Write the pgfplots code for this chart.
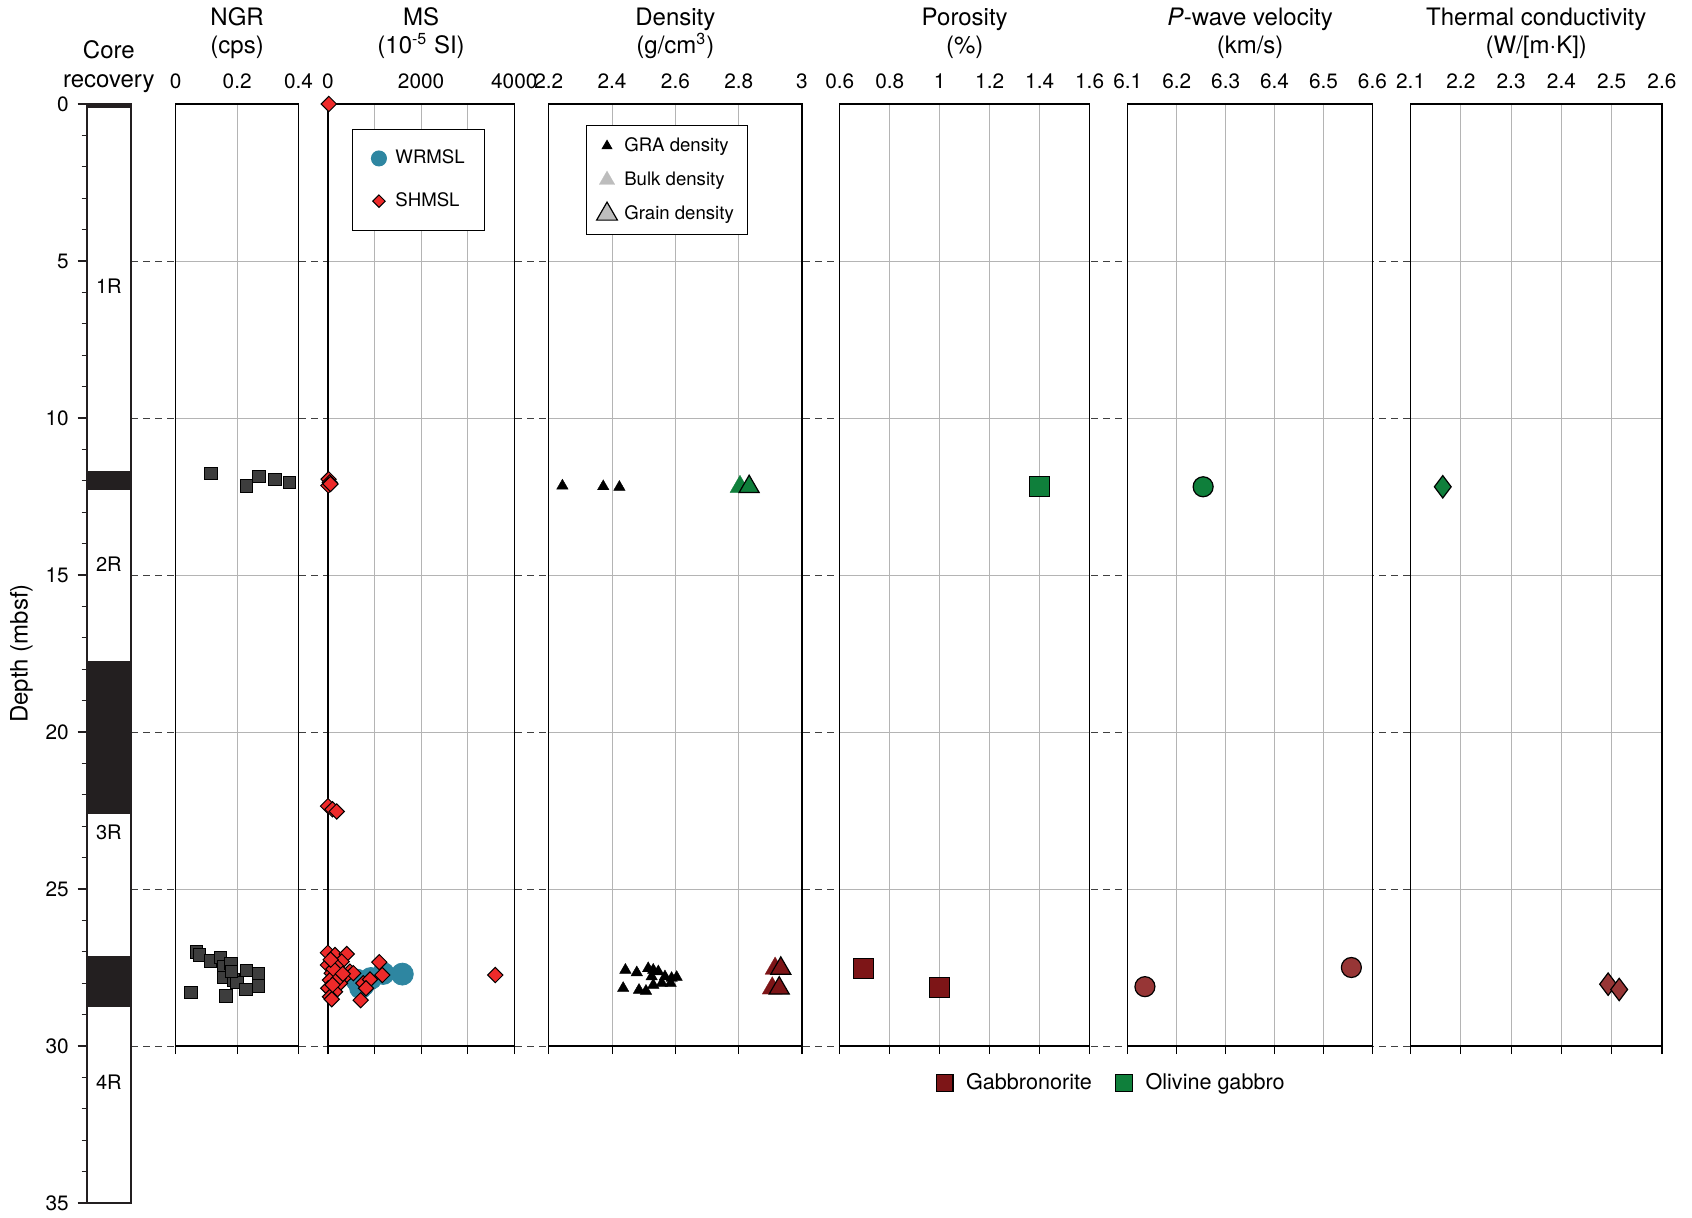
\documentclass[border=0pt]{standalone}
\usepackage{pgfplots}
\pgfplotsset{compat=1.18}
\usepackage{fontspec}
\setmainfont{TeX Gyre Heros}
\definecolor{gabsq}{HTML}{7D1517}
\definecolor{gabci}{HTML}{973636}
\definecolor{oliv}{HTML}{0F7F3B}
\definecolor{ngrgray}{HTML}{3D3D3D}
\definecolor{shred}{HTML}{EE2A2A}
\definecolor{wrteal}{HTML}{2E86A1}
\definecolor{coreblk}{HTML}{231F20}
\definecolor{gridgray}{HTML}{B4B4B4}
\definecolor{legray}{HTML}{BDBDBD}
\newcommand{\titlefont}{\fontsize{12}{14}\selectfont}
\newcommand{\tickfont}{\fontsize{10.4}{12}\selectfont}
\newcommand{\legfont}{\fontsize{9.3}{11}\selectfont}
\newcommand{\botlegfont}{\fontsize{10.8}{12}\selectfont}
\newcommand{\corefont}{\fontsize{10}{12}\selectfont}
\tikzset{ptitle/.style={font=\titlefont, anchor=base}}
\pgfplotsset{
  panel/.style={
    scale only axis, anchor=south west, height=471pt,
    ymin=0, ymax=30, y dir=reverse,
    ytick={0,5,...,30}, yticklabels={}, ytick style={draw=none},
    xmajorgrids, ymajorgrids,
    grid style={gridgray, line width=0.5pt},
    axis line style={black, line width=0.6pt},
    xtick pos=left, xticklabel pos=right,
    tick align=outside, major tick length=4pt,
    xtick style={black, line width=0.6pt},
    tick label style={font=\tickfont},
    axis background/.style={fill=white},
    clip=false,
  },
}
\newcommand{\paneltitle}[2]{%
  \node[ptitle, yshift=39.4pt] at (axis description cs:0.5,1) {#1};
  \node[ptitle, yshift=25.4pt] at (axis description cs:0.5,1) {#2};}
\begin{document}
\begin{tikzpicture}
\useasboundingbox (0,0) rectangle (846pt,608.5pt);
% dashed connectors
\begin{axis}[scale only axis, anchor=south west, at={(65.5pt,85.5pt)}, width=765.5pt, height=471pt,
  xmin=0, xmax=1, ymin=0, ymax=30, y dir=reverse, xtick=\empty, ytick={5,10,...,30}, yticklabels={},
  ymajorgrids, grid style={black!75, line width=0.5pt, dash pattern=on 3.5pt off 2.5pt},
  axis line style={draw=none}, tick style={draw=none}]
\addplot[draw=none] coordinates {(0,0)};
\end{axis}
% core recovery
\begin{axis}[scale only axis, anchor=south west, at={(43.35pt,7pt)}, width=22.15pt, height=549.5pt,
  xmin=0, xmax=1, ymin=0, ymax=35, y dir=reverse, clip=false,
  xtick=\empty, ytick={0,5,...,35}, yticklabels={0,5,10,15,20,25,30,35},
  minor ytick={0,1,...,35},
  ytick pos=left, tick align=outside, major tick length=4.5pt, minor tick length=2.5pt,
  tick style={coreblk, line width=0.6pt},
  axis line style={coreblk, line width=1.1pt},
  yticklabel style={font=\tickfont, xshift=-1pt},
  axis background/.style={fill=white},
  ylabel={Depth (mbsf)}, ylabel style={font=\titlefont, at={(axis description cs:-1.47,0.5)}, anchor=center}]
\addplot[fill=coreblk, draw=none] coordinates {(0,0) (1,0) (1,0.12) (0,0.12)} -- cycle;
\addplot[fill=coreblk, draw=none] coordinates {(0,11.7) (1,11.7) (1,12.29) (0,12.29)} -- cycle;
\addplot[fill=coreblk, draw=none] coordinates {(0,17.75) (1,17.75) (1,22.62) (0,22.62)} -- cycle;
\addplot[fill=coreblk, draw=none] coordinates {(0,27.13) (1,27.13) (1,28.76) (0,28.76)} -- cycle;
\node[font=\corefont] at (axis cs:0.5,5.8) {1R};
\node[font=\corefont] at (axis cs:0.5,14.65) {2R};
\node[font=\corefont] at (axis cs:0.5,23.2) {3R};
\node[font=\corefont] at (axis cs:0.5,31.15) {4R};
\node[ptitle, yshift=23pt] at (axis description cs:0.5,1) {Core};
\node[ptitle, yshift=8.5pt] at (axis description cs:0.5,1) {recovery};
\end{axis}
% NGR
\begin{axis}[panel, at={(87.85pt,85.5pt)}, width=61.45pt, xmin=0, xmax=0.4,
  xtick={0,0.2,0.4}, xticklabels={0,0.2,0.4}]
\addplot[only marks, mark=square*, mark size=3.1pt, mark options={fill=ngrgray, draw=black, line width=0.4pt}] coordinates {
(0.114,11.76) (0.231,12.16) (0.271,11.85) (0.323,11.95) (0.370,12.06)
(0.068,27.0) (0.077,27.1) (0.112,27.29) (0.146,27.18) (0.155,27.47) (0.180,27.37) (0.157,27.81) (0.188,27.9) (0.199,27.98) (0.231,27.6) (0.269,27.69) (0.229,28.19) (0.269,28.09) (0.049,28.29) (0.163,28.4) (0.182,27.63)};
\paneltitle{NGR}{(cps)}
\end{axis}
% MS
\begin{axis}[panel, at={(163.95pt,85.5pt)}, width=93.2pt, xmin=0, xmax=4000,
  xtick={0,1000,2000,3000,4000}, xticklabels={0,,2000,,4000},
  legend style={at={(axis description cs:0.129,0.974)}, anchor=north west, draw=black, line width=0.5pt,
    font=\legfont, inner xsep=4pt, inner ysep=8.5pt, row sep=8.9pt},
  legend cell align=left,
  legend image code/.code={\path (0pt,0pt) (15pt,0pt); \draw[#1] plot coordinates {(9pt,0pt)};}]
\addplot[forget plot, only marks, mark=*, mark size=5.5pt, mark options={fill=wrteal, draw=wrteal}] coordinates {
(1597,27.71) (1189,27.69) (760,28.06) (618,27.9) (920,27.85) (700,28.15)};
\addplot[forget plot, only marks, mark=square*, mark size=2.7pt, mark options={rotate=45, fill=shred, draw=black, line width=0.5pt}] coordinates {
(20,0) (15,11.95) (40,12.05) (10,12.15) (55,12.1)
(2,22.36) (97,22.46) (189,22.53)
(0,27.03) (152,27.1) (403,27.07) (296,27.31) (0,27.42) (189,27.47) (474,27.63) (82,27.68) (367,27.79) (45,27.9) (260,28.0) (9,28.16) (152,28.27) (45,28.43) (82,28.51) (1103,27.33) (1168,27.74) (760,28.0) (903,27.88) (818,28.16) (704,28.54) (3592,27.74) (545,27.68) (120,27.55) (230,27.85) (100,28.05) (320,27.7) (60,27.25)};
\addlegendimage{only marks, mark=*, mark size=3.75pt, mark options={fill=wrteal, draw=wrteal}}
\addlegendentry{WRMSL\rule{3.8pt}{0pt}}
\addlegendimage{only marks, mark=square*, mark size=2.2pt, mark options={rotate=45, fill=shred, draw=black, line width=0.5pt}}
\addlegendentry{SHMSL}
\paneltitle{MS}{(10\textsuperscript{-5} SI)}
\end{axis}
% Density
\begin{axis}[panel, at={(274.4pt,85.5pt)}, width=126.6pt, xmin=2.2, xmax=3,
  xtick={2.2,2.4,2.6,2.8,3}, xticklabels={2.2,2.4,2.6,2.8,3},
  legend style={at={(axis description cs:0.147,0.9777)}, anchor=north west, draw=black, line width=0.5pt,
    font=\legfont, inner xsep=4pt, inner ysep=3.95pt, row sep=4.7pt},
  legend cell align=left,
  legend image code/.code={\path (0pt,0pt) (12.4pt,0pt); \draw[#1] plot coordinates {(6pt,0pt)};}]
\addplot[forget plot, only marks, mark=triangle*, mark size=3.3pt, mark options={fill=black, draw=black, line width=0.2pt}] coordinates {
(2.243,12.16) (2.372,12.18) (2.423,12.2)
(2.442,27.58) (2.478,27.66) (2.514,27.53) (2.530,27.58) (2.546,27.63) (2.525,27.79) (2.567,27.79) (2.588,27.84) (2.604,27.81) (2.557,28.0) (2.585,28.0) (2.435,28.16) (2.485,28.22) (2.507,28.25) (2.530,28.06)};
\addplot[forget plot, only marks, mark=triangle*, mark size=5.8pt, mark options={fill=oliv, draw=oliv, line width=0.1pt}] coordinates {(2.804,12.19)};
\addplot[forget plot, only marks, mark=triangle*, mark size=5.8pt, mark options={fill=oliv, draw=black, line width=0.6pt}] coordinates {(2.833,12.19)};
\addplot[forget plot, only marks, mark=triangle*, mark size=5.8pt, mark options={fill=gabsq, draw=gabsq, line width=0.1pt}] coordinates {(2.915,27.53) (2.906,28.16)};
\addplot[forget plot, only marks, mark=triangle*, mark size=5.8pt, mark options={fill=gabsq, draw=black, line width=0.6pt}] coordinates {(2.933,27.53) (2.928,28.16)};
\addlegendimage{only marks, mark=triangle*, mark size=2.7pt, mark options={fill=black, draw=black}}
\addlegendentry{GRA density}
\addlegendimage{only marks, mark=triangle*, mark size=4.5pt, mark options={fill=legray, draw=legray, line width=0.1pt}}
\addlegendentry{Bulk density}
\addlegendimage{only marks, mark=triangle*, mark size=6pt, mark options={fill=legray, draw=black, line width=0.6pt}}
\addlegendentry{Grain density\rule{1pt}{0pt}}
\paneltitle{Density}{(g/cm\textsuperscript{3})}
\end{axis}
% Porosity
\begin{axis}[panel, at={(419.9pt,85.5pt)}, width=124.9pt, xmin=0.6, xmax=1.6,
  xtick={0.6,0.8,1,1.2,1.4,1.6}, xticklabels={0.6,0.8,1,1.2,1.4,1.6},
  legend style={at={(axis description cs:0.376,-0.0395)}, anchor=west, draw=none,
    font=\botlegfont, inner xsep=0pt, inner ysep=0pt, /tikz/column 2/.style={column sep=8.9pt}},
  legend columns=2, legend cell align=left,
  legend image code/.code={\path (0pt,0pt) (13.6pt,0pt); \draw[#1] plot coordinates {(5pt,0pt)};}]
\addplot[forget plot, only marks, mark=square*, mark size=5pt, mark options={fill=gabsq, draw=black, line width=0.6pt}] coordinates {(0.694,27.52) (1.0,28.13)};
\addplot[forget plot, only marks, mark=square*, mark size=5pt, mark options={fill=oliv, draw=black, line width=0.6pt}] coordinates {(1.4,12.19)};
\addlegendimage{only marks, mark=square*, mark size=4.2pt, mark options={fill=gabsq, draw=black, line width=0.6pt}}
\addlegendentry{Gabbronorite}
\addlegendimage{only marks, mark=square*, mark size=4.2pt, mark options={fill=oliv, draw=black, line width=0.6pt}}
\addlegendentry{Olivine gabbro}
\paneltitle{Porosity}{(\%)}
\end{axis}
% P-wave
\begin{axis}[panel, at={(563.9pt,85.5pt)}, width=122.3pt, xmin=6.1, xmax=6.6,
  xtick={6.1,6.2,6.3,6.4,6.5,6.6}, xticklabels={6.1,6.2,6.3,6.4,6.5,6.6}]
\addplot[only marks, mark=*, mark size=5pt, mark options={fill=gabci, draw=black, line width=0.6pt}] coordinates {(6.135,28.11) (6.557,27.5)};
\addplot[only marks, mark=*, mark size=5pt, mark options={fill=oliv, draw=black, line width=0.6pt}] coordinates {(6.254,12.19)};
\paneltitle{\textit{P}-wave velocity}{(km/s)}
\end{axis}
% Thermal conductivity
\begin{axis}[panel, at={(705.3pt,85.5pt)}, width=125.65pt, xmin=2.1, xmax=2.6,
  xtick={2.1,2.2,2.3,2.4,2.5,2.6}, xticklabels={2.1,2.2,2.3,2.4,2.5,2.6}]
\addplot[only marks, mark=diamond*, mark size=5.6pt, mark options={fill=gabci, draw=black, line width=0.6pt}] coordinates {(2.493,28.03) (2.515,28.2)};
\addplot[only marks, mark=diamond*, mark size=5.6pt, mark options={fill=oliv, draw=black, line width=0.6pt}] coordinates {(2.164,12.19)};
\paneltitle{Thermal conductivity}{(W/[m·K])}
\end{axis}
\end{tikzpicture}
\end{document}
